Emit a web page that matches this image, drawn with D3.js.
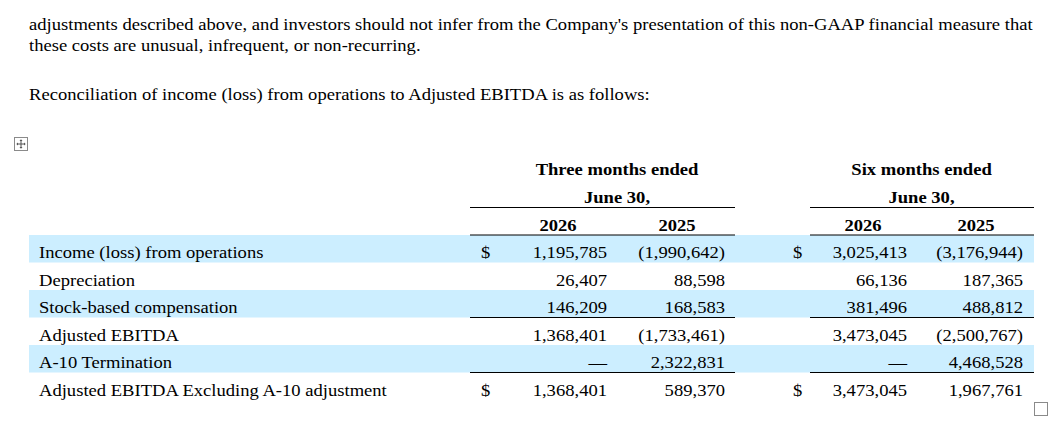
<!DOCTYPE html>
<html>
<head>
<meta charset="utf-8">
<script src="https://cdn.jsdelivr.net/npm/d3@7/dist/d3.min.js"></script>
<style>
  html, body { margin: 0; padding: 0; background: #fff; }
  svg { display: block; }
  text { font-family: "Liberation Serif", "Times New Roman", serif; fill: #000; }
</style>
</head>
<body>
<svg id="chart" width="1060" height="426"></svg>
<script>
// ---- data ----
const introLines = [
  "adjustments described above, and investors should not infer from the Company's presentation of this non-GAAP financial measure that",
  "these costs are unusual, infrequent, or non-recurring."
];
const leadText = "Reconciliation of income (loss) from operations to Adjusted EBITDA is as follows:";
const periodHeaders = ["Three months ended", "Six months ended"];
const periodSubHeaders = ["June 30,", "June 30,"];
const yearLabels = ["2026", "2025", "2026", "2025"];
const rowLabels = [
  "Income (loss) from operations",
  "Depreciation",
  "Stock-based compensation",
  "Adjusted EBITDA",
  "A-10 Termination",
  "Adjusted EBITDA Excluding A-10 adjustment"
];
const threeMonths2026 = [1195785, 26407, 146209, 1368401, null, 1368401];
const threeMonths2025 = [-1990642, 88598, 168583, -1733461, 2322831, 589370];
const sixMonths2026 = [3025413, 66136, 381496, 3473045, null, 3473045];
const sixMonths2025 = [-3176944, 187365, 488812, -2500767, 4468528, 1967761];
const dollarRows = [0, 5];
const shadedRows = [0, 2, 4];
const underlineAfterRows = [2, 4];

// ---- layout ----
const svg = d3.select("#chart");
const FS = 16.5, SX = 1.127;
const place = (sel, xf, yf) => sel.attr("transform", (d, i) =>
  `translate(${typeof xf === "function" ? xf(d, i) : xf},${typeof yf === "function" ? yf(d, i) : yf}) scale(${SX},1)`);
const fmt = d3.format(",");
const fmtVal = v => v === null ? "\u2014" : (v < 0 ? "(" + fmt(-v) + ")" : fmt(v));

const y = d3.scaleBand().domain(d3.range(rowLabels.length)).range([235, 400]).paddingInner(0);
const valueCols = ["t26", "t25", "s26", "s25"];
const xRight = d3.scaleOrdinal().domain(valueCols).range([607, 725, 907, 1023]);
const xHeadCenter = d3.scaleOrdinal().domain(valueCols).range([558, 677, 863, 976]);
const periodSpan = d3.scaleOrdinal().domain([0, 1]).range([[470, 735], [810, 1034]]);
const periodCenter = d3.scaleOrdinal().domain([0, 1]).range([617, 921.5]);
const dollarX = d3.scaleOrdinal().domain([0, 1]).range([481, 793]);
const tableLeft = 29, tableRight = 1034;

// intro text
place(svg.selectAll("text.intro").data(introLines).join("text")
  .attr("class", "intro").attr("font-size", FS).text(d => d), 29, (d, i) => 29.5 + i * 21.5);
place(svg.append("text").attr("font-size", FS).text(leadText), 29, 100);

// move icon
const icon = svg.append("g").attr("transform", "translate(14.5,137.5)");
icon.append("rect").attr("width", 13).attr("height", 13).attr("fill", "#fff").attr("stroke", "#8a8a8a");
icon.append("path").attr("d", "M6.5 2.5V10.5M2.5 6.5H10.5").attr("stroke", "#555").attr("stroke-width", 1).attr("fill", "none");
icon.append("path").attr("d", "M6.5 1.8L5 3.5H8Z M6.5 11.2L5 9.5H8Z M1.8 6.5L3.5 5V8Z M11.2 6.5L9.5 5V8Z").attr("fill", "#555");

// shaded rows
svg.selectAll("rect.band").data(shadedRows).join("rect")
  .attr("class", "band")
  .attr("x", tableLeft).attr("width", tableRight - tableLeft)
  .attr("y", d => y(d)).attr("height", y.bandwidth())
  .attr("fill", "#cceeff");

// headers
[0, 1].forEach(p => {
  const [x0, x1] = periodSpan(p);
  place(svg.append("text").attr("text-anchor", "middle").attr("font-weight", "bold")
    .attr("font-size", FS).text(periodHeaders[p]), periodCenter(p), 175);
  place(svg.append("text").attr("text-anchor", "middle").attr("font-weight", "bold")
    .attr("font-size", FS).text(periodSubHeaders[p]), periodCenter(p), 203);
  [207.5, 235].forEach(yy => {
    svg.append("line").attr("x1", x0).attr("x2", x1).attr("y1", yy).attr("y2", yy)
      .attr("stroke", "#000").attr("stroke-width", 1);
  });
  underlineAfterRows.forEach(r => {
    const yy = y(r) + y.bandwidth();
    svg.append("line").attr("x1", x0).attr("x2", x1).attr("y1", yy).attr("y2", yy)
      .attr("stroke", "#000").attr("stroke-width", 1);
  });
});
place(svg.selectAll("text.year").data(valueCols).join("text")
  .attr("class", "year").attr("text-anchor", "middle").attr("font-weight", "bold")
  .attr("font-size", FS).text((d, i) => yearLabels[i]), d => xHeadCenter(d), 231);

// row labels
place(svg.selectAll("text.label").data(rowLabels).join("text")
  .attr("class", "label").attr("font-size", FS).text(d => d), 39, (d, i) => y(i) + 23);

// dollar signs
dollarRows.forEach(r => {
  [0, 1].forEach(p => {
    place(svg.append("text").attr("font-size", FS).text("$"), dollarX(p), y(r) + 23);
  });
});

// values
const series = { t26: threeMonths2026, t25: threeMonths2025, s26: sixMonths2026, s25: sixMonths2025 };
valueCols.forEach(c => {
  place(svg.selectAll("text.v-" + c).data(series[c]).join("text")
    .attr("class", "v-" + c).attr("text-anchor", "end").attr("font-size", FS)
    .text(d => fmtVal(d)), xRight(c), (d, i) => y(i) + 23);
});

// end-of-table marker
svg.append("rect").attr("x", 1034.5).attr("y", 402.5).attr("width", 13).attr("height", 13)
  .attr("fill", "#fff").attr("stroke", "#8a8a8a");
</script>
</body>
</html>
